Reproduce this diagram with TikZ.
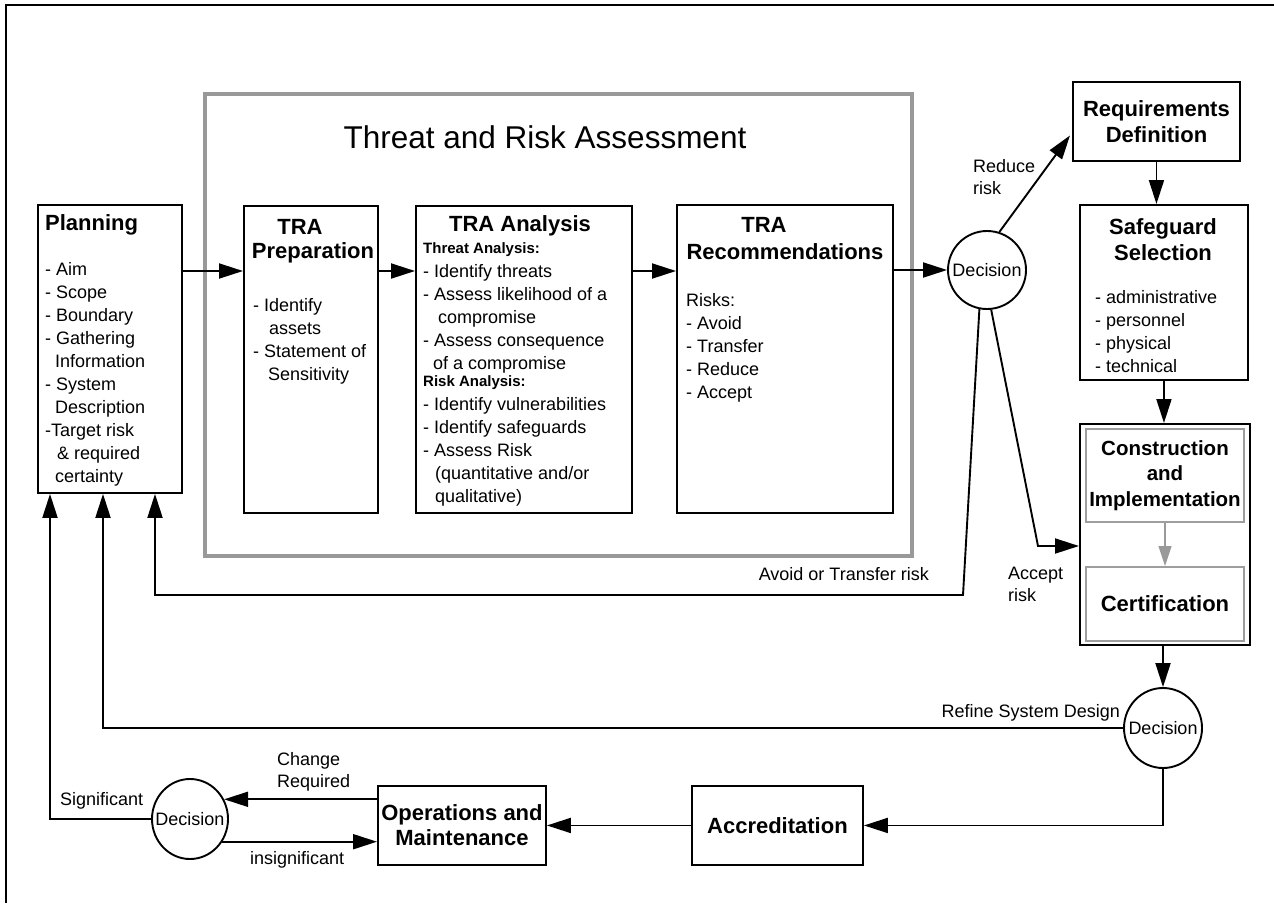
\documentclass[tikz,border=0pt]{standalone}
\usepackage{fontspec}
\setmainfont{Liberation Sans}
\usetikzlibrary{arrows.meta,calc,shapes.geometric}
\newcommand\myfs[2]{\fontsize{#1}{#2}\selectfont}
\begin{document}
\begin{tikzpicture}[x=1pt,y=-1pt,
  box/.style={draw, line width=1.9pt, inner sep=0, anchor=north west},
  gbox/.style={draw=black!38, line width=2pt, inner sep=0, anchor=north west},
  conn/.style={line width=1.9pt},
  arr/.style={conn, -{Triangle[length=24pt,width=15pt]}},
  dec/.style={draw, line width=1.9pt, ellipse, inner sep=0},
  body/.style={font=\myfs{18}{23}, align=left, inner sep=0, anchor=base west},
  head/.style={font=\bfseries\myfs{22}{26}, align=center, inner sep=0},
  small/.style={font=\bfseries\myfs{15}{18}, inner sep=0, anchor=west},
  lbl/.style={font=\myfs{18}{22}, align=left, inner sep=0}]
\useasboundingbox (0,0) rectangle (1274,903);
\fill[white] (0,0) rectangle (1274,903);
\draw[line width=2.5pt] (6,903) -- (6,5) -- (1274,5);

% gray TRA frame
\node[gbox, draw=black!40, line width=3.5pt, minimum width=707, minimum height=462] (tra) at (203,92) {};
\node[font=\myfs{31.5}{36}, inner sep=0] (title) at (545,137) {Threat and Risk Assessment};

% Planning (body nodes anchored at the baseline of their LAST line)
\node[box, minimum width=144, minimum height=288] (plan) at (37,204) {};
\node[font=\bfseries\myfs{22}{26}, inner sep=0, anchor=west] (planh) at (45,225) {Planning};
\node[body] (planl) at (45,482) {- Aim\\- Scope\\- Boundary\\- Gathering\\\hspace*{10pt}Information\\- System\\\hspace*{10pt}Description\\-Target risk\\\hspace*{12pt}\& required\\\hspace*{10pt}certainty};

% TRA Preparation
\node[box, minimum width=134, minimum height=307] (prep) at (243,205) {};
\node[head] (preph1) at (300,227) {TRA};
\node[head] (preph2) at (313,253) {Preparation};
\node[body] (prepl) at (253,380) {- Identify\\\hspace*{16pt}assets\\- Statement of\\\hspace*{15pt}Sensitivity};

% TRA Analysis
\node[box, minimum width=216, minimum height=307] (anal) at (415,205) {};
\node[head] (analh) at (520,226) {TRA Analysis};
\node[small] (analt) at (423,250) {Threat Analysis:};
\node[body] (anall1) at (423,369) {- Identify threats\\- Assess likelihood of a\\\hspace*{15pt}compromise\\- Assess consequence\\\hspace*{10pt}of a compromise};
\node[small] (analr) at (423,383) {Risk Analysis:};
\node[body] (anall2) at (423,502) {- Identify vulnerabilities\\- Identify safeguards\\- Assess Risk\\\hspace*{12pt}(quantitative and/or\\\hspace*{12pt}qualitative)};

% TRA Recommendations
\node[box, minimum width=216, minimum height=308] (reco) at (676,204) {};
\node[head] (recoh1) at (764,225) {TRA};
\node[head] (recoh2) at (785,252) {Recommendations};
\node[body] (recol) at (686,398) {Risks:\\- Avoid\\- Transfer\\- Reduce\\- Accept};

% Decision 1
\node[dec, minimum width=78, minimum height=78] (dec1) at (987,270) {};
\node[lbl] (dec1t) at (dec1.center) {Decision};

% Requirements
\node[box, minimum width=167, minimum height=79] (req) at (1072,81) {};
\node[head] (reqt) at (req.center) {Requirements\\Definition};

% Safeguard
\node[box, minimum width=168, minimum height=175] (safe) at (1079,204) {};
\node[head] (safeh) at (1163,239.5) {Safeguard\\Selection};
\node[body] (safel) at (1095,372) {- administrative\\- personnel\\- physical\\- technical};

% Construction / Certification
\node[box, minimum width=170, minimum height=221] (cons) at (1079,423) {};
\node[gbox, minimum width=158, minimum height=93] (impl) at (1085,428) {};
\node[head, font=\bfseries\myfs{20.5}{25.5}] (implt) at (impl.center) {Construction\\and\\Implementation};
\node[gbox, minimum width=158, minimum height=74] (cert) at (1085,566) {};
\node[head] (certt) at (cert.center) {Certification};

% Decision 2
\node[dec, minimum width=78, minimum height=80] (dec2) at (1163,728) {};
\node[lbl] (dec2t) at (dec2.center) {Decision};

% Accreditation, Operations
\node[box, minimum width=171, minimum height=79] (accr) at (691,785) {};
\node[head] (accrt) at (accr.center) {Accreditation};
\node[box, minimum width=168, minimum height=79] (ops) at (377,785) {};
\node[head, font=\bfseries\myfs{22}{25}] (opst) at (ops.center) {Operations and\\Maintenance};

% Decision 3
\node[dec, minimum width=76, minimum height=80] (dec3) at (190,819) {};
\node[lbl] (dec3t) at (dec3.center) {Decision};

% helper coordinates
\coordinate (rowy) at (0,271);
\coordinate (reqin) at ($(req.west)+(-2,14)$);
\coordinate (avoidc) at (963,595);
\coordinate (acceptc) at (1038,546);
\coordinate (planA) at ($(plan.south west)+(118,0)$);
\coordinate (planR) at ($(plan.south west)+(66,0)$);
\coordinate (planS) at ($(plan.south west)+(13,0)$);

% connectors
\draw[arr] (plan.east |- rowy) -- (prep.west |- rowy);
\draw[arr] (prep.east |- rowy) -- (anal.west |- rowy);
\draw[arr] (anal.east |- rowy) -- (reco.west |- rowy);
\draw[arr] (reco.east |- dec1.west) -- (dec1.west);
\draw[arr] (dec1.72) -- (reqin);
\draw[arr] (req.south) -- (req.south |- safe.north);
\draw[arr] (safe.south) -- (safe.south |- cons.north);
\draw[line width=1.3pt, draw=black!40, -{Triangle[length=20pt,width=13pt]}] (impl.south) -- (cert.north);
\draw[arr] (dec2.north |- cons.south) -- (dec2.north);
\draw[arr] (dec1.259) -- (avoidc) -| (planA);
\draw[arr] (dec1.276) -- (acceptc) -- (cons.west |- acceptc);
\draw[arr] (dec2.west) -| (planR);
\draw[arr] (dec2.south) |- (accr.east);
\draw[arr] (accr.west) -- (ops.east);
\draw[arr] (ops.west |- dec3.30) -- (dec3.30);
\draw[arr] (dec3.-35) -- (ops.west |- dec3.-35);
\draw[arr] (dec3.west) -| (planS);

% labels
\node[lbl, anchor=west] (lreduce) at (973,177) {Reduce\\risk};
\node[lbl, anchor=east] (lavoid) at (929,574) {Avoid or Transfer risk};
\node[lbl, anchor=west] (laccept) at (1008,584) {Accept\\risk};
\node[lbl, anchor=east] (lrefine) at (1120,713) {Refine System Design};
\node[lbl, anchor=west] (lchange) at (277,772) {Change\\Required};
\node[lbl, anchor=west] (lsig) at (60,801) {Significant};
\node[lbl, anchor=west] (linsig) at (250,860) {insignificant};
\end{tikzpicture}
\end{document}
